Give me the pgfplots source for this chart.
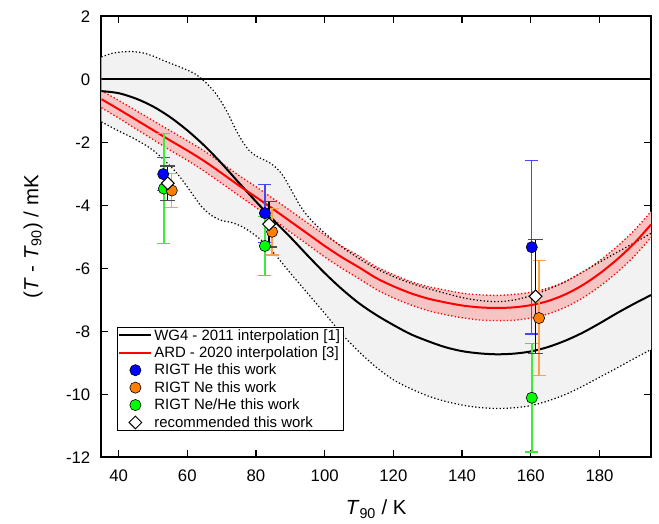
\documentclass[border=0pt]{standalone}
\usepackage{fontspec}
\setmainfont{Liberation Sans}
\usepackage{pgfplots}
\pgfplotsset{compat=1.18}
\usepgfplotslibrary{fillbetween}
\usepackage{pgfplotstable}

\definecolor{greyfill}{RGB}{242,242,242}
\definecolor{pinkfill}{RGB}{247,196,196}
\definecolor{mblue}{RGB}{0,0,255}
\definecolor{ebblue}{RGB}{70,70,255}
\definecolor{morange}{RGB}{255,128,0}
\definecolor{eborange}{RGB}{255,160,70}
\definecolor{mgreen}{RGB}{0,255,0}
\definecolor{ebgreen}{RGB}{60,235,60}

\pgfplotstableread{
T v
35 -0.375
40 -0.44
45 -0.61
50 -0.86
55 -1.20
60 -1.62
65 -2.11
70 -2.67
75 -3.28
80 -3.88
85 -4.46
90 -5.01
95 -5.59
100 -6.15
105 -6.66
110 -7.11
115 -7.48
120 -7.80
125 -8.09
130 -8.31
135 -8.50
140 -8.63
145 -8.70
150 -8.73
155 -8.71
160 -8.64
165 -8.50
170 -8.30
175 -8.05
180 -7.75
185 -7.43
190 -7.13
195 -6.85
}\wgfour

\pgfplotstableread{
T v up lo
35 -0.63 -0.36 -0.90
40 -0.95 -0.67 -1.23
45 -1.28 -0.99 -1.57
50 -1.61 -1.31 -1.91
55 -1.94 -1.63 -2.25
60 -2.26 -1.95 -2.57
65 -2.60 -2.28 -2.92
70 -2.98 -2.66 -3.30
75 -3.37 -3.05 -3.69
80 -3.74 -3.41 -4.07
85 -4.12 -3.79 -4.45
90 -4.51 -4.17 -4.85
95 -4.90 -4.56 -5.24
100 -5.29 -4.94 -5.64
105 -5.65 -5.30 -6.00
110 -5.97 -5.61 -6.33
115 -6.31 -5.95 -6.67
120 -6.57 -6.20 -6.94
125 -6.79 -6.42 -7.16
130 -6.96 -6.58 -7.34
135 -7.08 -6.69 -7.47
140 -7.18 -6.79 -7.57
145 -7.24 -6.84 -7.64
150 -7.26 -6.86 -7.66
155 -7.24 -6.83 -7.65
160 -7.17 -6.76 -7.58
165 -7.04 -6.63 -7.45
170 -6.83 -6.42 -7.24
175 -6.54 -6.13 -6.95
180 -6.17 -5.76 -6.58
185 -5.73 -5.32 -6.14
190 -5.22 -4.81 -5.63
195 -4.61 -4.20 -5.02
}\ard

\pgfplotstableread{
T v
35 0.71
38 0.82
41 0.87
44 0.88
47 0.84
50 0.74
53 0.60
56 0.47
59 0.34
62 0.19
64 0.03
66 -0.17
68 -0.41
70 -0.73
72 -1.12
74 -1.57
76 -1.96
78 -2.26
80 -2.43
82 -2.54
84 -2.65
86 -2.82
88 -3.08
90 -3.46
93 -4.04
96 -4.46
100 -4.88
105 -5.32
110 -5.69
115 -6.01
120 -6.26
125 -6.47
130 -6.64
135 -6.79
140 -6.93
145 -7.02
150 -7.06
155 -7.01
160 -6.87
165 -6.67
170 -6.43
175 -6.12
180 -5.81
185 -5.50
190 -5.20
195 -4.89
}\greyup

\pgfplotstableread{
T v
35 -1.35
40 -1.64
45 -1.91
50 -2.25
55 -2.75
58 -3.12
61 -3.57
64 -4.02
67 -4.32
70 -4.48
73 -4.55
76 -4.68
79 -4.89
82 -5.15
85 -5.49
90 -6.15
95 -6.79
100 -7.43
105 -8.09
110 -8.65
115 -9.14
120 -9.54
125 -9.82
130 -10.05
135 -10.22
140 -10.34
145 -10.42
150 -10.45
155 -10.43
160 -10.36
165 -10.21
170 -10.01
175 -9.75
180 -9.46
185 -9.17
190 -8.87
195 -8.58
}\greylo

\pgfplotstableread{
T v e
53.0 -3.01 0.53
82.6 -4.25 0.92
160.3 -5.33 2.76
}\heblue

\pgfplotstableread{
T v e
55.5 -3.53 0.55
84.7 -4.84 0.74
162.4 -7.58 1.82
}\neorange

\pgfplotstableread{
T v e
53.2 -3.47 1.75
82.6 -5.29 0.93
160.3 -10.11 1.72
}\negreen

\pgfplotstableread{
T v e
54.3 -3.30 0.55
83.8 -4.60 0.72
161.4 -6.89 1.81
}\recom

\begin{document}
\begin{tikzpicture}
\begin{axis}[
  scale only axis, width=549.6bp, height=441bp,
  xmin=35, xmax=195, ymin=-12, ymax=2,
  xtick={40,60,...,180}, ytick={-12,-10,...,2},
  tick align=inside, major tick length=7bp,
  axis line style={line width=1.8bp},
  every tick/.style={black, line width=1.4bp},
  /pgf/number format/assume math mode=true,
  tick label style={font=\fontsize{16.8}{19}\selectfont, inner sep=0pt},
  xticklabel style={anchor=north, yshift=-12bp},
  yticklabel style={anchor=east, xshift=-11bp},
  xlabel={\textit{T}\textsubscript{90} / K},
  ylabel={(\textit{T} - \textit{T}\textsubscript{90}) / mK},
  label style={font=\fontsize{20.5}{24}\selectfont},
  xlabel style={at={(axis description cs:0.5,-0.1308)}, anchor=base},
  ylabel style={at={(axis description cs:-0.1245,0.5)}, anchor=center},
  legend style={at={(rel axis cs:0.0284,0.295)}, anchor=north west,
    draw=black, line width=1bp, fill=white,
    font=\fontsize{15}{18}\selectfont,
    inner xsep=1bp, inner ysep=0.5bp, row sep=3.1bp,
    nodes={inner xsep=2bp, inner ysep=1bp}},
  legend cell align=left,
  legend image code/.code={\draw[mark repeat=2,mark phase=2,#1] plot coordinates {(0bp,0bp) (16bp,0bp) (32bp,0bp)};},
]
% bands
\addplot[name path=gu, draw=none, smooth, forget plot] table[x=T,y=v] {\greyup};
\addplot[name path=gl, draw=none, smooth, forget plot] table[x=T,y=v] {\greylo};
\addplot[greyfill, forget plot] fill between[of=gu and gl];
\addplot[name path=ru, draw=none, smooth, forget plot] table[x=T,y=up] {\ard};
\addplot[name path=rl, draw=none, smooth, forget plot] table[x=T,y=lo] {\ard};
\addplot[pinkfill, forget plot] fill between[of=ru and rl];
% band edges
\addplot[black, line width=1.2bp, dash pattern=on 1.3bp off 2.2bp, smooth, forget plot] table[x=T,y=v] {\greyup};
\addplot[black, line width=1.2bp, dash pattern=on 1.3bp off 2.2bp, smooth, forget plot] table[x=T,y=v] {\greylo};
\addplot[red, line width=1.3bp, dash pattern=on 1.3bp off 2.2bp, smooth, forget plot] table[x=T,y=up] {\ard};
\addplot[red, line width=1.3bp, dash pattern=on 1.3bp off 2.2bp, smooth, forget plot] table[x=T,y=lo] {\ard};
% zero line
\addplot[black, line width=1.8bp, forget plot] coordinates {(35,0) (195,0)};
% curves
\addplot[black, line width=2bp, smooth, forget plot] table[x=T,y=v] {\wgfour};
\addplot[red, line width=2bp, smooth, forget plot] table[x=T,y=v] {\ard};
% data
\addplot[forget plot, draw=ebblue, only marks, mark=*, mark size=5.6bp, mark options={fill=mblue, draw=black, line width=0.6bp},
  error bars/.cd, y dir=both, y explicit,
  error bar style={draw=ebblue, line width=1.3bp},
  error mark options={draw=ebblue, rotate=90, mark size=6.5bp, line width=1.3bp}]
  table[x=T, y=v, y error=e] {\heblue};
\addplot[forget plot, draw=ebgreen, only marks, mark=*, mark size=5.6bp, mark options={fill=mgreen, draw=black, line width=0.6bp},
  error bars/.cd, y dir=both, y explicit,
  error bar style={draw=ebgreen, line width=1.4bp},
  error mark options={draw=ebgreen, rotate=90, mark size=6.5bp, line width=1.4bp}]
  table[x=T, y=v, y error=e] {\negreen};
\addplot[forget plot, draw=eborange, only marks, mark=*, mark size=5.6bp, mark options={fill=morange, draw=black, line width=0.6bp},
  error bars/.cd, y dir=both, y explicit,
  error bar style={draw=eborange, line width=1.3bp},
  error mark options={draw=eborange, rotate=90, mark size=6.5bp, line width=1.3bp}]
  table[x=T, y=v, y error=e] {\neorange};
\addplot[forget plot, draw=black, only marks, mark=square*, mark size=4.5bp, mark options={rotate=45, fill=white, draw=black, line width=1bp},
  error bars/.cd, y dir=both, y explicit,
  error bar style={draw=black, line width=1.4bp},
  error mark options={draw=black!70, rotate=90, mark size=7.5bp, line width=1.5bp}]
  table[x=T, y=v, y error=e] {\recom};
% legend
\addlegendimage{black, line width=1.8bp}
\addlegendentry{WG4 - 2011 interpolation [1]}
\addlegendimage{red, line width=1.5bp}
\addlegendentry{ARD - 2020 interpolation [3]}
\addlegendimage{only marks, mark=*, mark size=5.6bp, mark options={fill=mblue, draw=black, line width=0.6bp}}
\addlegendentry{RIGT He this work}
\addlegendimage{only marks, mark=*, mark size=5.6bp, mark options={fill=morange, draw=black, line width=0.6bp}}
\addlegendentry{RIGT Ne this work}
\addlegendimage{only marks, mark=*, mark size=5.6bp, mark options={fill=mgreen, draw=black, line width=0.6bp}}
\addlegendentry{RIGT Ne/He this work}
\addlegendimage{only marks, mark=square*, mark size=4.5bp, mark options={rotate=45, fill=white, draw=black, line width=1bp}}
\addlegendentry{recommended this work}
\end{axis}
\path (-101.4bp,-66.7bp) rectangle (557.6bp,457.3bp);
\end{tikzpicture}
\end{document}
